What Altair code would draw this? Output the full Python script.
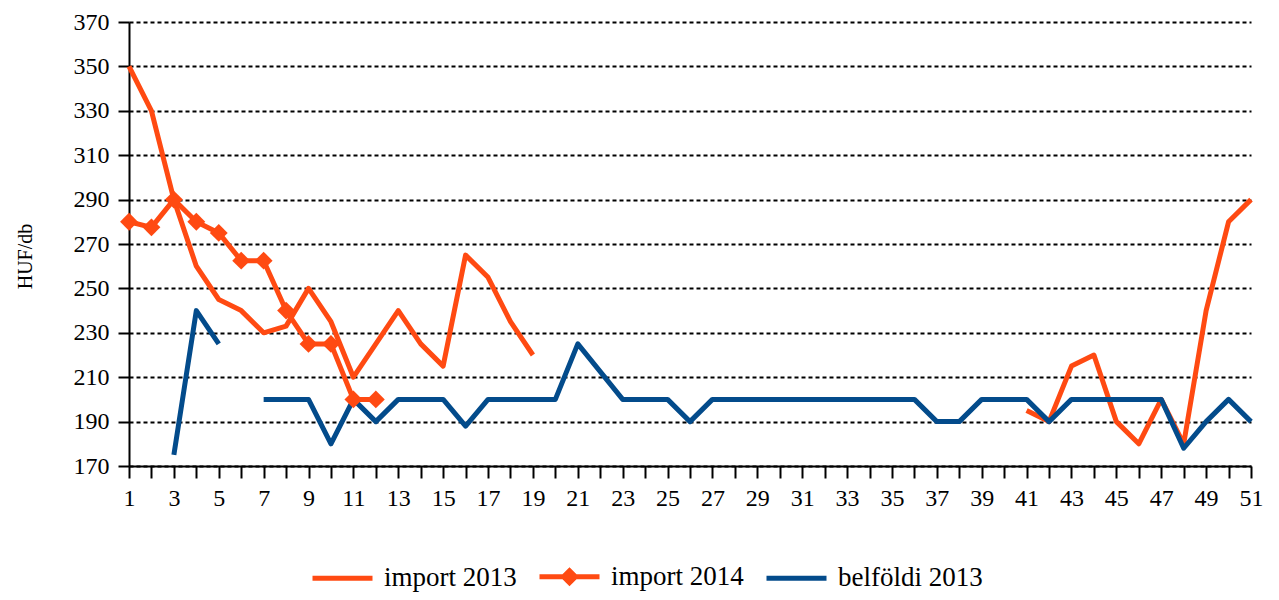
import altair as alt
import pandas as pd

weeks = list(range(1, 52))
y_ticks = list(range(170, 371, 20))

import_2013 = [350, 330, 290, 260, 245, 240, 230, 233, 250, 235,
               210, 225, 240, 225, 215, 265, 255, 235, 220] + [None] * 21 + \
              [195, 190, 215, 220, 190, 180, 200, 180, 240, 280, 290]
import_2014 = [280, 277.5, 290, 280, 275, 262.5, 262.5, 240, 225, 225, 200, 200] + [None] * 39
belfoldi_2013 = [None, None, 175, 240, 225, None, 200, 200, 200, 180,
                 200, 190, 200, 200, 200, 188, 200, 200, 200, 200,
                 225, 212.5, 200, 200, 200, 190] + [200] * 10 + \
                [190, 190, 200, 200, 200, 190, 200, 200, 200, 200, 200, 178, 190, 200, 190]

series_names = ["import 2013", "import 2014", "belföldi 2013"]
series_values = [import_2013, import_2014, belfoldi_2013]
series_colors = ["#FF4A12", "#FF4A12", "#034B8B"]
marker_series = "import 2014"

rows = []
for name, vals in zip(series_names, series_values):
    seg = 0
    gap = True
    for w, v in zip(weeks, vals):
        if v is None:
            gap = True
            continue
        if gap:
            seg += 1
            gap = False
        rows.append({"week": w, "value": v, "series": name, "segment": f"{name}-{seg}"})
df = pd.DataFrame(rows)

FONT = "Liberation Serif"

x_enc = alt.X(
    "week:Q",
    scale=alt.Scale(domain=[1, 51], nice=False, zero=False),
    axis=alt.Axis(
        values=weeks,
        labelExpr="datum.value % 2 == 1 ? datum.label : ''",
        labelOverlap=False,
        labelFlush=False,
        title=None,
        grid=False,
        tickSize=12,
        labelPadding=8,
    ),
)
y_enc = alt.Y(
    "value:Q",
    scale=alt.Scale(domain=[170, 370], nice=False, zero=False),
    axis=alt.Axis(
        values=y_ticks,
        title="HUF/db",
        titleX=-104,
        titleY=234,
        titleAngle=-90,
        titleAlign="center",
        titleBaseline="middle",
        titleFontSize=20,
        titleFontWeight="normal",
        grid=True,
        gridColor="black",
        gridDash=[4, 3],
        gridWidth=2,
        tickSize=11,
        labelPadding=9,
    ),
)

legend_shape = ("datum.value == 'import 2014' ? "
                "'M-1,0L1,0M0,-0.2L0.2,0L0,0.2L-0.2,0Z' : 'M-1,0L1,0'")

color_enc = alt.Color(
    "series:N",
    scale=alt.Scale(domain=series_names, range=series_colors),
    sort=series_names,
    legend=alt.Legend(
        title=None,
        orient="none",
        legendX=181,
        legendY=522,
        direction="horizontal",
        symbolType=alt.ExprRef(expr=legend_shape),
        symbolSize=3600,
        symbolStrokeWidth=5,
        symbolFillColor="#FF4A12",
        labelFont=FONT,
        labelFontSize=27,
        labelColor="black",
        labelOffset=9,
        labelLimit=0,
        columnPadding=12,
        padding=0,
    ),
)

lines = alt.Chart(df).mark_line(strokeWidth=5, strokeJoin="round").encode(
    x=x_enc, y=y_enc, color=color_enc, detail="segment:N", order="week:Q"
)
points = alt.Chart(df).transform_filter(
    alt.datum.series == marker_series
).mark_point(shape="diamond", filled=True, size=320, opacity=1, color="#FF4A12").encode(
    x=x_enc, y=y_enc
)

chart = alt.layer(lines, points).properties(
    width=1122,
    height=444,
    autosize=alt.AutoSizeParams(type="none"),
    padding={"left": 121, "top": 14, "right": 12, "bottom": 126},
).configure_view(stroke=None).configure_axis(
    labelFont=FONT,
    titleFont=FONT,
    labelFontSize=24,
    labelColor="black",
    titleColor="black",
    domainColor="black",
    domainWidth=2,
    tickColor="black",
    tickWidth=2,
)

chart.save("out.html", embed_options={"renderer": "svg", "actions": False})
